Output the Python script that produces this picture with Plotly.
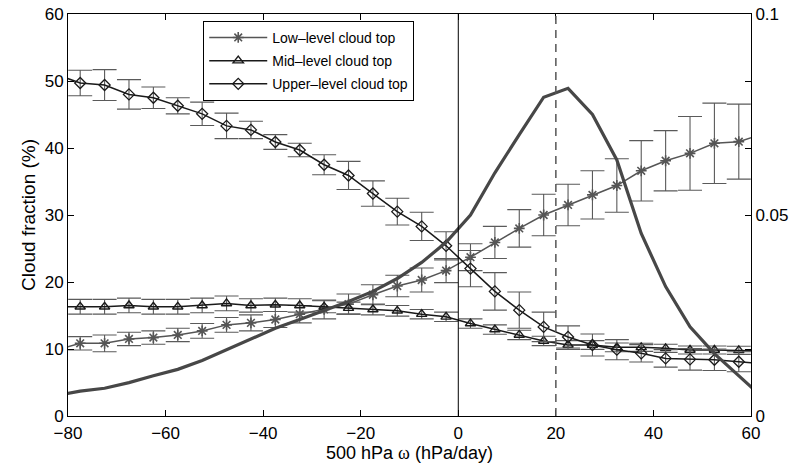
import plotly.graph_objects as go

omega = [-82.5, -77.5, -72.5, -67.5, -62.5, -57.5, -52.5, -47.5, -42.5, -37.5,
         -32.5, -27.5, -22.5, -17.5, -12.5, -7.5, -2.5, 2.5, 7.5, 12.5,
         17.5, 22.5, 27.5, 32.5, 37.5, 42.5, 47.5, 52.5, 57.5, 62.5]

low = [9.8, 10.85, 10.85, 11.5, 11.7, 12.1, 12.7, 13.6, 13.9, 14.4,
       15.2, 15.9, 16.7, 18.1, 19.4, 20.3, 21.7, 23.7, 25.9, 28.0,
       30.0, 31.5, 33.0, 34.4, 36.6, 38.1, 39.2, 40.7, 40.95, 42.1]
low_err = [1.0, 1.0, 1.25, 1.0, 1.0, 1.0, 1.1, 1.1, 1.2, 1.2,
           1.3, 1.4, 1.5, 1.5, 1.6, 1.8, 1.8, 2.0, 2.4, 2.8,
           3.1, 3.1, 3.6, 4.0, 4.5, 4.5, 5.5, 6.0, 5.6, 5.6]

mid = [16.3, 16.3, 16.3, 16.5, 16.3, 16.3, 16.5, 16.8, 16.5, 16.6,
       16.5, 16.3, 16.1, 15.9, 15.7, 15.2, 14.8, 13.8, 12.9, 12.1,
       11.2, 10.6, 10.6, 10.25, 10.25, 10.1, 9.85, 9.85, 9.8, 9.7]
mid_err = [1.1, 1.1, 1.1, 1.1, 1.1, 1.1, 1.1, 1.1, 1.0, 1.0,
           1.0, 0.9, 0.9, 0.8, 0.8, 0.7, 0.7, 0.7, 0.7, 0.7,
           0.7, 0.65, 0.65, 0.65, 0.6, 0.6, 0.6, 0.6, 0.6, 0.6]

upper = [51.0, 49.7, 49.4, 48.0, 47.5, 46.3, 45.1, 43.3, 42.7, 40.9,
         39.7, 37.5, 35.9, 33.2, 30.5, 28.3, 25.4, 22.0, 18.6, 15.8,
         13.3, 11.8, 10.6, 9.9, 9.35, 8.6, 8.45, 8.4, 8.1, 7.8]
upper_err = [2.0, 1.9, 2.3, 2.2, 1.6, 1.2, 1.75, 1.9, 1.3, 1.1,
             1.0, 1.5, 2.1, 1.9, 2.0, 2.1, 2.1, 2.7, 2.8, 2.7,
             2.2, 1.65, 1.65, 1.5, 1.3, 1.3, 1.6, 1.6, 1.5, 1.5]

freq = [0.0050, 0.0062, 0.0069, 0.0083, 0.0100, 0.0116, 0.0138, 0.0164, 0.0192, 0.0218,
        0.0240, 0.0262, 0.0285, 0.0310, 0.0342, 0.0382, 0.0432, 0.0500, 0.0605, 0.0700,
        0.0793, 0.0815, 0.0750, 0.0637, 0.0454, 0.0322, 0.0222, 0.0155, 0.0100, 0.0045]

x_ticks = [-80, -60, -40, -20, 0, 20, 40, 60]
y_ticks = [0, 10, 20, 30, 40, 50, 60]
y2_ticks = [0, 0.05, 0.1]
y2_labels = ["0", "0.05", "0.1"]

FONT = "Liberation Sans, Arial, Helvetica, sans-serif"
ERR_COL = "#5a5a5a"

fig = go.Figure()

fig.add_trace(go.Scatter(
    x=omega, y=freq, yaxis="y2", mode="lines",
    line=dict(color="#474747", width=3.2), showlegend=False, hoverinfo="skip"))

fig.add_trace(go.Scatter(
    x=omega, y=low, mode="lines+markers", name="Low\u2013level cloud top",
    legendgroup="low",
    line=dict(color="#555555", width=1.5),
    marker=dict(symbol="asterisk-open", size=9, color="#555555",
                line=dict(width=1.6, color="#555555")),
    error_y=dict(type="data", array=low_err, visible=True, color=ERR_COL,
                 thickness=1.1, width=12)))

fig.add_trace(go.Scatter(
    x=omega, y=mid, mode="lines+markers", name="Mid\u2013level cloud top",
    legendgroup="mid",
    line=dict(color="#1a1a1a", width=1.5),
    marker=dict(symbol="triangle-up-open", size=9, color="#1a1a1a",
                line=dict(width=1.4, color="#1a1a1a")),
    error_y=dict(type="data", array=mid_err, visible=True, color=ERR_COL,
                 thickness=1.1, width=12)))

fig.add_trace(go.Scatter(
    x=omega, y=upper, mode="lines+markers", name="Upper\u2013level cloud top",
    legendgroup="upper",
    line=dict(color="#1a1a1a", width=1.5),
    marker=dict(symbol="diamond-open", size=8.5, color="#1a1a1a",
                line=dict(width=1.3, color="#1a1a1a")),
    error_y=dict(type="data", array=upper_err, visible=True, color=ERR_COL,
                 thickness=1.1, width=12)))

fig.add_shape(type="line", xref="x", yref="paper", x0=0, x1=0, y0=0, y1=1,
              line=dict(color="black", width=1))
fig.add_shape(type="line", xref="x", yref="paper", x0=20, x1=20, y0=0, y1=1,
              line=dict(color="#555555", width=1.5, dash="8px,6px"))

axis_common = dict(showgrid=False, zeroline=False, showline=True, linecolor="black",
                   linewidth=1, ticks="inside", ticklen=6, tickcolor="black",
                   automargin=False,
                   tickfont=dict(family=FONT, size=17, color="black"))

fig.update_layout(
    width=805, height=464,
    margin=dict(l=68, r=54, t=14, b=48),
    paper_bgcolor="white", plot_bgcolor="white",
    font=dict(family=FONT, size=15, color="black"),
    xaxis=dict(range=[-80, 60], tickvals=x_ticks, mirror="ticks", ticklabelstandoff=2,
               title=dict(text='500 hPa <span style="font-family:Liberation Serif, Times New Roman, serif">\u03c9</span> (hPa/day)',
                          font=dict(family=FONT, size=18), standoff=0),
               **axis_common),
    yaxis=dict(range=[0, 60], tickvals=y_ticks, mirror="ticks",
               title=dict(text="Cloud fraction (%)", font=dict(family=FONT, size=19), standoff=4),
               **axis_common),
    yaxis2=dict(range=[0, 0.1], tickvals=y2_ticks, ticktext=y2_labels,
                overlaying="y", side="right", **axis_common),
    legend=dict(x=0.198, y=0.983, xanchor="left", yanchor="top",
                bgcolor="white", bordercolor="black", borderwidth=1,
                font=dict(family=FONT, size=14), itemwidth=58,
                tracegroupgap=2),
)

fig.write_html("out.html")
